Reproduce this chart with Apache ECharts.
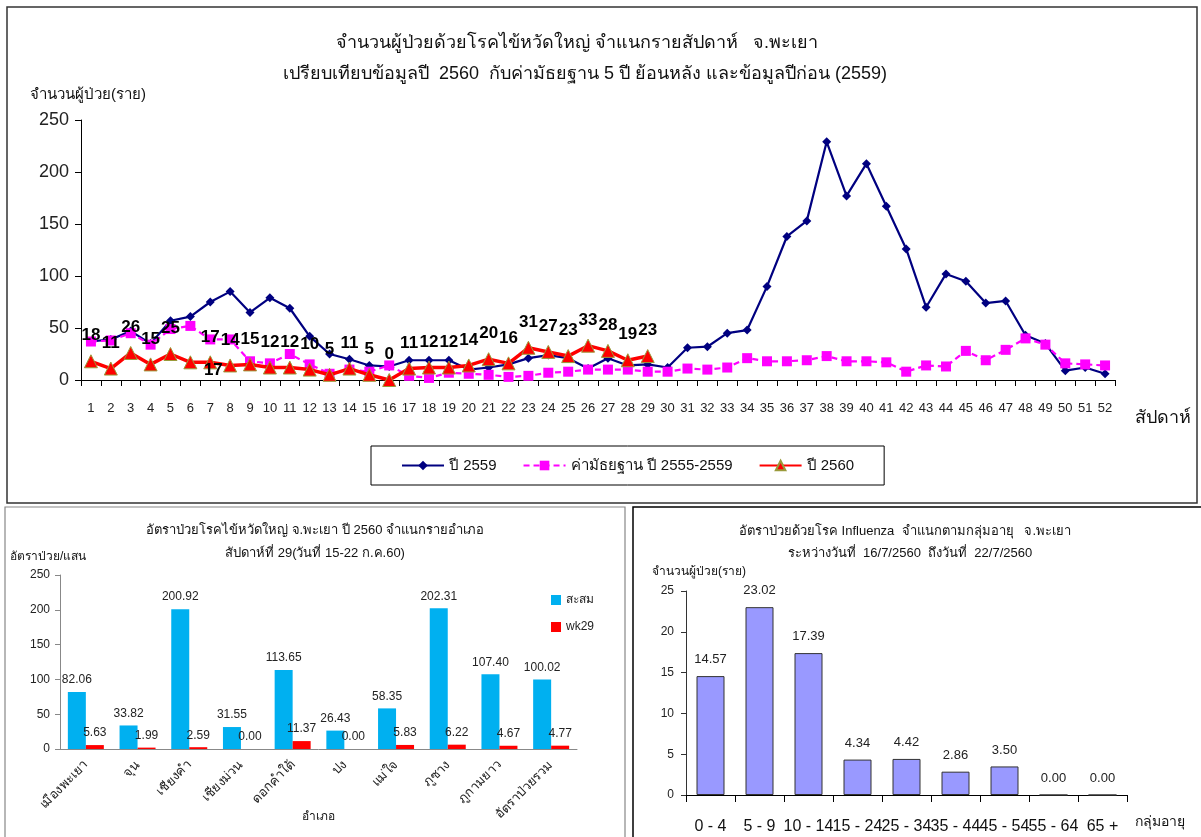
<!DOCTYPE html>
<html><head><meta charset="utf-8">
<script src="https://cdn.jsdelivr.net/npm/echarts@6/dist/echarts.min.js"></script>
<style>html,body{margin:0;padding:0;background:#fff}#c{width:1201px;height:837px}</style>
</head><body><div id="c"></div>
<script>
const weeks = ['1','2','3','4','5','6','7','8','9','10','11','12','13','14','15','16','17','18','19','20','21','22','23','24','25','26','27','28','29','30','31','32','33','34','35','36','37','38','39','40','41','42','43','44','45','46','47','48','49','50','51','52'];
const cases2559 = [37,39,47,35,57,61,75,85,65,79,69,42,25,20,14,13,19,19,19,10,12,15,21,24,21,11,21,14,15,12,31,32,45,48,90,138,153,229,177,208,167,126,70,102,95,74,76,43,35,9,12,6];
const median5y = [37,38,45,34,49,52,39,39,18,16,25,15,6,10,8,14,4,2,7,6,5,3,4,7,8,10,10,10,8,8,11,10,12,21,18,18,19,23,18,18,17,8,14,13,28,19,29,40,34,16,15,14];
const cases2560 = [18,11,26,15,25,17,17,14,15,12,12,10,5,11,5,0,11,12,12,14,20,16,31,27,23,33,28,19,23];
const seriesNames = ['ปี 2559','ค่ามัธยฐาน ปี 2555-2559','ปี 2560'];

const districts = ['เมืองพะเยา','จุน','เชียงคำ','เชียงม่วน','ดอกคำใต้','ปง','แม่ใจ','ภูซาง','ภูกามยาว','อัตราป่วยรวม'];
const rateCumulative = [82.06,33.82,200.92,31.55,113.65,26.43,58.35,202.31,107.40,100.02];
const rateWk29 = [5.63,1.99,2.59,0.00,11.37,0.00,5.83,6.22,4.67,4.77];
const districtSeries = ['สะสม','wk29'];

const ageGroups = ['0 - 4','5 - 9','10 - 14','15 - 24','25 - 34','35 - 44','45 - 54','55 - 64','65 +'];
const ageRates = [14.57,23.02,17.39,4.34,4.42,2.86,3.50,0.00,0.00];

const FF = "Tahoma, 'Liberation Sans', 'Noto Sans', sans-serif";
const chart = echarts.init(document.getElementById('c'));

const data2560 = cases2560.map((v,i)=> i===5 ? {value:v, label:{offset:[23,33]}} : v);

function txt(x,y,s,size,align,extra){
  return Object.assign({type:'text', x:x, y:y, z:100, style:{text:s, fontSize:size, fontFamily:FF, fill:'#111', textAlign:align||'center', textVerticalAlign:'middle'}}, extra||{});
}

const option = {
  animation:false,
  textStyle:{fontFamily:FF},
  graphic:[
    {type:'rect', shape:{x:7,y:7,width:1190,height:496}, style:{fill:'none', stroke:'#333', lineWidth:1.5}},
    {type:'rect', shape:{x:5,y:507,width:620,height:340}, style:{fill:'none', stroke:'#888', lineWidth:1.2}},
    {type:'rect', shape:{x:633,y:507,width:570,height:340}, style:{fill:'none', stroke:'#000', lineWidth:1.5}},
    txt(577,43,'จำนวนผู้ป่วยด้วยโรคไข้หวัดใหญ่ จำแนกรายสัปดาห์   จ.พะเยา',18),
    txt(585,74,'เปรียบเทียบข้อมูลปี  2560  กับค่ามัธยฐาน 5 ปี ย้อนหลัง และข้อมูลปีก่อน (2559)',18),
    txt(30,95,'จำนวนผู้ป่วย(ราย)',15,'left'),
    txt(1135,418,'สัปดาห์',18,'left'),
    txt(315,530,'อัตราป่วยโรคไข้หวัดใหญ่ จ.พะเยา ปี 2560 จำแนกรายอำเภอ',13),
    txt(315,553,'สัปดาห์ที่ 29(วันที่ 15-22 ก.ค.60)',13),
    txt(10,557,'อัตราป่วย/แสน',12,'left'),
    txt(318,817,'อำเภอ',12),
    txt(905,531,'อัตราป่วยด้วยโรค Influenza  จำแนกตามกลุ่มอายุ   จ.พะเยา',13),
    txt(910,553,'ระหว่างวันที่  16/7/2560  ถึงวันที่  22/7/2560',13),
    txt(652,572,'จำนวนผู้ป่วย(ราย)',12,'left'),
    txt(1135,822,'กลุ่มอายุ',14,'left')
  ],
  legend:[
    {data:seriesNames, left:371, top:446, orient:'horizontal', borderColor:'#000', borderWidth:1,
     padding:[12,30,12,30], itemWidth:42, itemHeight:12, itemGap:26,
     textStyle:{fontSize:15, color:'#111', fontFamily:FF}},
    {data:districtSeries, left:546, top:589, orient:'vertical', icon:'rect', itemWidth:10, itemHeight:10, itemGap:15,
     textStyle:{fontSize:12, color:'#222', fontFamily:FF}}
  ],
  grid:[
    {left:81, right:86, top:120, bottom:457},
    {left:60, right:624, top:575, bottom:88},
    {left:686, right:74, top:591, bottom:42}
  ],
  xAxis:[
    {gridIndex:0, type:'category', data:weeks, boundaryGap:true,
     axisLine:{lineStyle:{color:'#000', width:1}}, axisTick:{show:true, interval:0, length:6, lineStyle:{color:'#000'}},
     axisLabel:{interval:0, margin:22, fontSize:13, color:'#222', fontFamily:"'Liberation Sans', sans-serif"}},
    {gridIndex:1, type:'category', data:districts, boundaryGap:true,
     axisLine:{lineStyle:{color:'#888', width:1}}, axisTick:{show:false},
     axisLabel:{interval:0, rotate:45, margin:14, fontSize:13, color:'#222'}},
    {gridIndex:2, type:'category', data:ageGroups, boundaryGap:true,
     axisLine:{lineStyle:{color:'#000', width:1}}, axisTick:{show:true, interval:0, length:7, lineStyle:{color:'#000'}},
     axisLabel:{interval:0, margin:24, fontSize:16, color:'#111', hideOverlap:false, fontFamily:"'Liberation Sans', sans-serif"}}
  ],
  yAxis:[
    {gridIndex:0, type:'value', min:0, max:250, interval:50, splitLine:{show:false},
     axisLine:{show:true, lineStyle:{color:'#000'}}, axisTick:{show:true, length:6, lineStyle:{color:'#000'}},
     axisLabel:{fontSize:18, margin:12, color:'#222', fontFamily:"'Liberation Sans', sans-serif"}},
    {gridIndex:1, type:'value', min:0, max:250, interval:50, splitLine:{show:false},
     axisLine:{show:true, lineStyle:{color:'#888'}}, axisTick:{show:true, length:5, lineStyle:{color:'#888'}},
     axisLabel:{fontSize:12, margin:10, color:'#222'}},
    {gridIndex:2, type:'value', min:0, max:25, interval:5, splitLine:{show:false},
     axisLine:{show:true, lineStyle:{color:'#333'}}, axisTick:{show:true, length:5, lineStyle:{color:'#333'}},
     axisLabel:{fontSize:12, margin:12, color:'#222'}}
  ],
  series:[
    {name:seriesNames[0], type:'line', xAxisIndex:0, yAxisIndex:0, data:cases2559,
     color:'#000080', lineStyle:{width:2.2, color:'#000080'}, symbol:'diamond', symbolSize:9,
     itemStyle:{color:'#000080'}, z:2},
    {name:seriesNames[1], type:'line', xAxisIndex:0, yAxisIndex:0, data:median5y,
     color:'#FF00FF', lineStyle:{width:2.2, type:[6,4], color:'#FF00FF'}, symbol:'rect', symbolSize:10,
     itemStyle:{color:'#FF00FF'}, z:3},
    {name:seriesNames[2], type:'line', xAxisIndex:0, yAxisIndex:0, data:data2560,
     color:'#FF0000', lineStyle:{width:3.5, color:'#FF0000'}, symbol:'triangle', symbolSize:13,
     itemStyle:{color:'#FF0000', borderColor:'#9a9a3a', borderWidth:1}, z:4,
     label:{show:true, position:'top', distance:10, fontSize:17, fontWeight:'bold', color:'#000', fontFamily:"'Liberation Sans', Arial, sans-serif"}},
    {name:districtSeries[0], type:'bar', xAxisIndex:1, yAxisIndex:1, data:rateCumulative, barWidth:18, barGap:'0%',
     itemStyle:{color:'#00B0F0'},
     label:{show:true, position:'top', distance:6, fontSize:12, color:'#222', formatter:p=>p.value.toFixed(2)}},
    {name:districtSeries[1], type:'bar', xAxisIndex:1, yAxisIndex:1, data:rateWk29, barWidth:18, barGap:'0%',
     itemStyle:{color:'#FF0000'},
     label:{show:true, position:'top', distance:6, fontSize:12, color:'#222', formatter:p=>p.value.toFixed(2)}},
    {name:'age', type:'bar', xAxisIndex:2, yAxisIndex:2, data:ageRates, barWidth:28,
     itemStyle:{color:'#9999FF', borderColor:'#333', borderWidth:1},
     label:{show:true, position:'top', distance:10, fontSize:13, color:'#222', formatter:p=>p.value.toFixed(2)}}
  ]
};
chart.setOption(option);
</script></body></html>
